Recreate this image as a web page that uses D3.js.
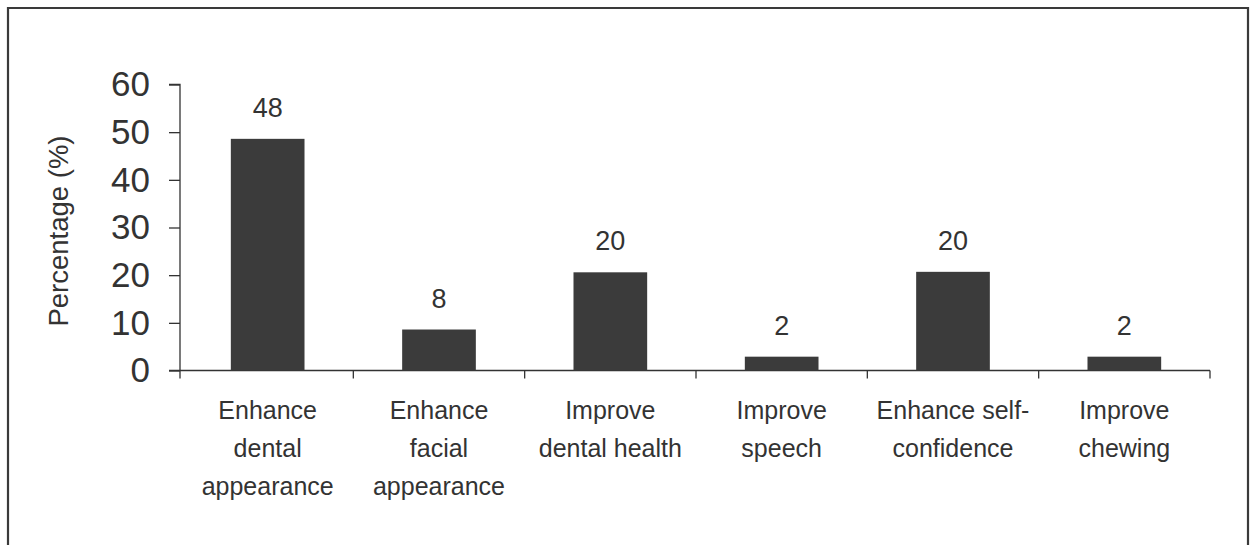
<!DOCTYPE html>
<html>
<head>
<meta charset="utf-8">
<script src="https://cdn.jsdelivr.net/npm/d3@7"></script>
<style>
  html, body { margin: 0; padding: 0; background: #fff; }
  svg { display: block; }
  text { font-family: "Liberation Sans", Arial, Helvetica, sans-serif; fill: #333; }
</style>
</head>
<body>
<svg id="chart" width="1250" height="545"></svg>
<script>
// ---- data ----
const categories = [
  ["Enhance", "dental", "appearance"],
  ["Enhance", "facial", "appearance"],
  ["Improve", "dental health"],
  ["Improve", "speech"],
  ["Enhance self-", "confidence"],
  ["Improve", "chewing"]
];
const barValues = [48.6, 8.6, 20.6, 2.9, 20.7, 2.9];   // bar heights as drawn
const valueLabels = ["48", "8", "20", "2", "20", "2"]; // labels printed above bars
const yTicks = [0, 10, 20, 30, 40, 50, 60];
const yTitle = "Percentage (%)";

// ---- layout ----
const svg = d3.select("#chart");
const ink = "#333";

// frame
svg.append("path")
  .attr("d", "M8,545 L8,8 L1248,8 L1248,545")
  .attr("fill", "none").attr("stroke", "#3a3a3a").attr("stroke-width", 2.2);

const idx = d3.range(categories.length);
const x = d3.scaleBand().domain(idx).range([182, 1210])
  .paddingInner(0.57).paddingOuter(0.285);
const step = x.step();
const y = d3.scaleLinear().domain([0, 60]).range([370.5, 84.5]);
const axisX = 180;

// y axis
const yAxis = d3.axisLeft(y).tickValues(yTicks).tickSize(11).tickPadding(19)
  .tickFormat(d3.format("d"));
const gy = svg.append("g").attr("transform", `translate(${axisX},0)`).call(yAxis);
gy.select(".domain").attr("stroke", ink).attr("stroke-width", 1.3)
  .attr("d", `M-11,${y(60)}H0V${y(0) + 8}`);
gy.selectAll(".tick line").attr("stroke", ink).attr("stroke-width", 1.3);
gy.selectAll(".tick text").attr("font-size", 35).attr("fill", ink)
  .attr("font-family", "'Liberation Sans', Arial, sans-serif");

// x axis baseline and boundary ticks
const right = x.range()[1];
svg.append("line").attr("x1", axisX - 11).attr("x2", right)
  .attr("y1", y(0)).attr("y2", y(0)).attr("stroke", ink).attr("stroke-width", 1.3);
const bounds = idx.slice(1).map(i => x(i) + x.bandwidth() / 2 - step / 2)
  .concat([x(idx.length - 1) + x.bandwidth() / 2 + step / 2]);
svg.selectAll(".xtick").data(bounds).enter().append("line")
  .attr("x1", d => d).attr("x2", d => d)
  .attr("y1", y(0)).attr("y2", y(0) + 8)
  .attr("stroke", ink).attr("stroke-width", 1.3);

// bars
svg.selectAll(".bar").data(barValues).enter().append("rect")
  .attr("x", (d, i) => x(i))
  .attr("width", x.bandwidth())
  .attr("y", d => y(d))
  .attr("height", d => y(0) - y(d))
  .attr("fill", "#3b3b3b");

// value labels
svg.selectAll(".vlab").data(barValues).enter().append("text")
  .attr("x", (d, i) => x(i) + x.bandwidth() / 2)
  .attr("y", d => y(d) - 22)
  .attr("text-anchor", "middle")
  .attr("font-size", 27)
  .text((d, i) => valueLabels[i]);

// category labels
const cg = svg.selectAll(".cat").data(categories).enter().append("text")
  .attr("text-anchor", "middle")
  .attr("font-size", 25)
  .attr("transform", (d, i) => `translate(${x(i) + x.bandwidth() / 2},419)`);
cg.selectAll("tspan").data(d => d).enter().append("tspan")
  .attr("x", 0).attr("y", (d, j) => j * 38)
  .text(d => d);

// y title
svg.append("text")
  .attr("transform", "translate(68,231) rotate(-90)")
  .attr("text-anchor", "middle")
  .attr("font-size", 27.5)
  .text(yTitle);
</script>
</body>
</html>
